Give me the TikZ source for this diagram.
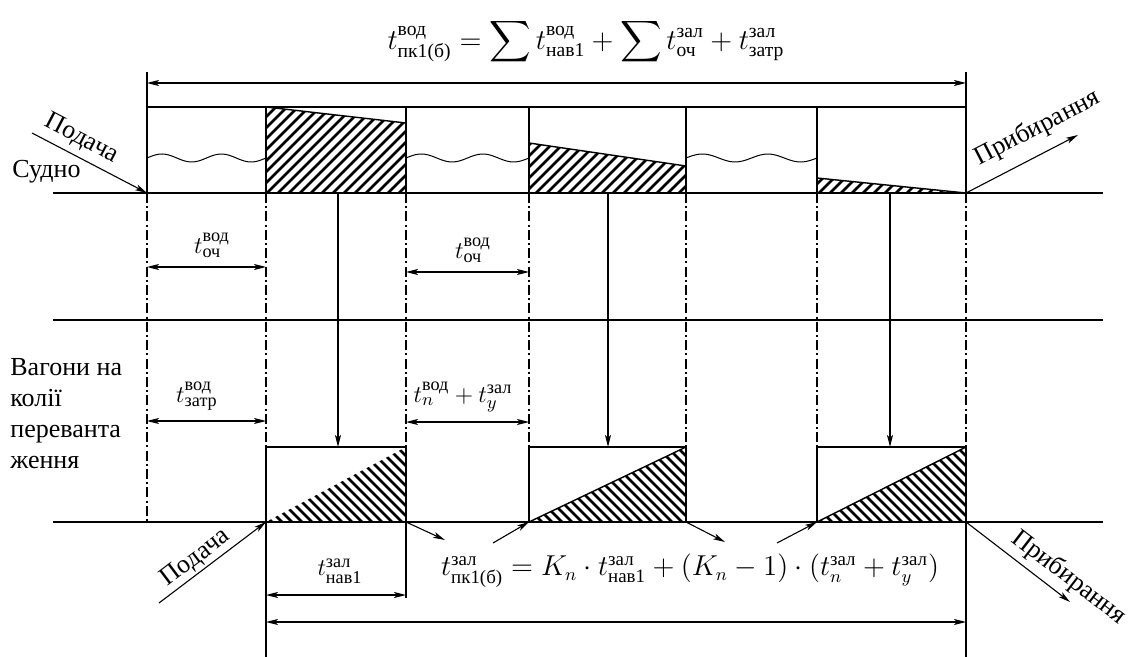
\documentclass[tikz,border=0pt]{standalone}
\usepackage{amsmath}
\usepackage{fontspec}
\setmainfont{Liberation Serif}
\usetikzlibrary{arrows.meta}
\newcommand{\tsub}[1]{\text{#1}}

\begin{document}
\begin{tikzpicture}[
  x=0.5pt,y=-0.5pt,
  >={Stealth[length=6pt,width=3pt,inset=1.5pt]},
  ln/.style={line width=0.7pt},
  dd/.style={line width=0.6pt,dash pattern=on 5pt off 1.6pt on 1pt off 1.6pt},
  dimar/.style={<->,line width=0.6pt},
  ar/.style={->,line width=0.55pt},
  hatch/.style={line width=1.3pt},
  wave/.style={line width=0.5pt,smooth,domain=0:1,samples=40},
  lbl/.style={font=\rmfamily\fontsize{13}{15.5}\selectfont,inner sep=1pt},
  mth/.style={font=\fontsize{13}{15}\selectfont,inner sep=0pt}
]
  \useasboundingbox (0,0) rectangle (1139,657);
  % column points: ship top/bottom, wagon top/bottom
  \foreach \n/\x in {0/147,1/266,2/406,3/529,4/686,5/817,6/966}{
    \coordinate (st\n) at (\x,107);
    \coordinate (sb\n) at (\x,193);
    \coordinate (wt\n) at (\x,447);
    \coordinate (wb\n) at (\x,522);
  }
  \coordinate (sL) at (53,193);  \coordinate (sR) at (1103,193);
  \coordinate (mL) at (53,320);  \coordinate (mR) at (1103,320);
  \coordinate (wL) at (53,522);  \coordinate (wR) at (1103,522);
  \coordinate (topL) at (147,72); \coordinate (topR) at (966,72);
  \coordinate (dimL) at (147,83); \coordinate (dimR) at (966,83);
  \coordinate (h1) at (406,123);
  \coordinate (h2a) at (529,143); \coordinate (h2b) at (686,166);
  \coordinate (h3) at (817,178);

  % ship lane
  \draw[ln] (sL) -- (sR);
  \draw[ln] (mL) -- (mR);
  \draw[ln] (wL) -- (wR);
  \draw[ln] (topL) -- (sb0);
  \draw[ln] (topR) -- (sb6);
  \draw[dimar] (dimL) -- (dimR);
  \draw[ln] (st0) -- (st6);
  \foreach \n in {1,...,5} {\draw[ln] (st\n) -- (sb\n);}

  \begin{scope}
    \clip (st1) -- (h1) -- (sb2) -- (sb1) -- cycle;
    \foreach \x in {150,161,...,420} {\draw[hatch] (\x,200) -- ++(100,-100);}
  \end{scope}
  \begin{scope}
    \clip (h2a) -- (h2b) -- (sb4) -- (sb3) -- cycle;
    \foreach \x in {430,441,...,700} {\draw[hatch] (\x,200) -- ++(100,-100);}
  \end{scope}
  \begin{scope}
    \clip (h3) -- (sb6) -- (sb5) -- cycle;
    \foreach \x in {790,801,...,980} {\draw[hatch] (\x,200) -- ++(100,-100);}
  \end{scope}
  \draw[ln] (st1) -- (h1);
  \draw[ln] (h2a) -- (h2b);
  \draw[ln] (h3) -- (sb6);

  \draw[wave] plot ({147+119*\x},{158-4*sin(720*\x)});
  \draw[wave] plot ({406+123*\x},{158-4*sin(720*\x)});
  \draw[wave] plot ({686+131*\x},{158-4*sin(720*\x)});

  % guide lines
  \draw[dd] (sb0) -- (wb0);
  \draw[dd] (sb1) -- (wb1);
  \foreach \n in {2,...,6} {\draw[dd] (sb\n) -- (wt\n);}

  % wagon lane
  \begin{scope}
    \clip (wb1) -- (wt2) -- (wb2) -- cycle;
    \foreach \x in {180,190,...,420} {\draw[hatch] (\x,430) -- ++(100,100);}
  \end{scope}
  \begin{scope}
    \clip (wb3) -- (wt4) -- (wb4) -- cycle;
    \foreach \x in {440,450,...,700} {\draw[hatch] (\x,430) -- ++(100,100);}
  \end{scope}
  \begin{scope}
    \clip (wb5) -- (wt6) -- (wb6) -- cycle;
    \foreach \x in {730,740,...,980} {\draw[hatch] (\x,430) -- ++(100,100);}
  \end{scope}
  \draw[ln] (wt1) -- (wt2) -- (wb2) -- (wb1) -- cycle;
  \draw[ln] (wb3) -- (wt3) -- (wt4) -- (wb4);
  \draw[ln] (wb3) -- (wt4);
  \draw[ln] (wb5) -- (wt5) -- (wt6) -- (wb6);
  \draw[ln] (wb5) -- (wt6);

  % transfer arrows
  \foreach \n/\x in {1/338,2/608,3/890}{
    \coordinate (a\n t) at (\x,193);
    \coordinate (a\n b) at (\x,447);
    \draw[ar] (a\n t) -- (a\n b);
  }

  % dimensions
  \coordinate (o1L) at (147,267); \coordinate (o1R) at (266,267);
  \coordinate (o2L) at (406,272); \coordinate (o2R) at (529,272);
  \coordinate (z1L) at (147,421); \coordinate (z1R) at (266,421);
  \coordinate (pL) at (406,422);  \coordinate (pR) at (529,422);
  \coordinate (n1L) at (266,595); \coordinate (n1R) at (406,595);
  \coordinate (kL) at (266,622);  \coordinate (kR) at (966,622);
  \coordinate (bot1) at (266,657); \coordinate (bot2) at (406,598);
  \coordinate (bot6) at (966,657);
  \draw[ln] (wb1) -- (bot1);
  \draw[ln] (wb2) -- (bot2);
  \draw[ln] (wb6) -- (bot6);
  \draw[dimar] (o1L) -- (o1R);
  \draw[dimar] (o2L) -- (o2R);
  \draw[dimar] (z1L) -- (z1R);
  \draw[dimar] (pL) -- (pR);
  \draw[dimar] (n1L) -- (n1R);
  \draw[dimar] (kL) -- (kR);

  % in and out
  \coordinate (in1) at (32,133);    \coordinate (out1) at (1078,135);
  \coordinate (in2) at (159,603);   \coordinate (out2) at (1070,602);
  \coordinate (x1) at (445,540);    \coordinate (e1) at (493,543);
  \coordinate (x2) at (725,542);    \coordinate (e2) at (777,543);
  \draw[ar] (in1) -- node[lbl,sloped,above=2pt,pos=0.36] {Подача} (sb0);
  \draw[ar] (sb6) -- node[lbl,sloped,above=5pt,pos=0.74] {Прибирання} (out1);
  \draw[ar] (in2) -- node[lbl,sloped,above,pos=0.42] {Подача} (wb1);
  \draw[ar] (wb6) -- node[lbl,sloped,above=2pt,pos=0.88] {Прибирання} (out2);
  \draw[ar] (wb2) -- (x1);
  \draw[ar] (e1) -- (wb3);
  \draw[ar] (wb4) -- (x2);
  \draw[ar] (e2) -- (wb5);

  % texts
  \node[lbl,anchor=west] (ship) at (10,172) {Судно};
  \node[lbl,anchor=west,align=left] (wagons) at (8,414)
    {Вагони на\\колії\\переванта\\ження};
  \node[mth,font=\fontsize{14}{16}\selectfont] (ftop) at (586,42)
    {$t^{\tsub{вод}}_{\tsub{пк1(б)}}=\displaystyle\sum t^{\tsub{вод}}_{\tsub{нав1}}
      +\sum t^{\tsub{зал}}_{\tsub{оч}}+t^{\tsub{зал}}_{\tsub{затр}}$};
  \node[mth] (toch1) at (212,245) {$t^{\tsub{вод}}_{\tsub{оч}}$};
  \node[mth] (toch2) at (473,250) {$t^{\tsub{вод}}_{\tsub{оч}}$};
  \node[mth] (tzatr) at (197,396) {$t^{\tsub{вод}}_{\tsub{затр}}$};
  \node[mth] (tpy) at (463,397) {$t^{\tsub{вод}}_{n}+t^{\tsub{зал}}_{y}$};
  \node[mth] (tnav) at (340,571) {$t^{\tsub{зал}}_{\tsub{нав1}}$};
  \node[mth,font=\fontsize{13.5}{16}\selectfont] (fbot) at (690,571)
    {$t^{\tsub{зал}}_{\tsub{пк1(б)}}=K_n\cdot t^{\tsub{зал}}_{\tsub{нав1}}
      +(K_n-1)\cdot(t^{\tsub{зал}}_{n}+t^{\tsub{зал}}_{y})$};
\end{tikzpicture}
\end{document}
